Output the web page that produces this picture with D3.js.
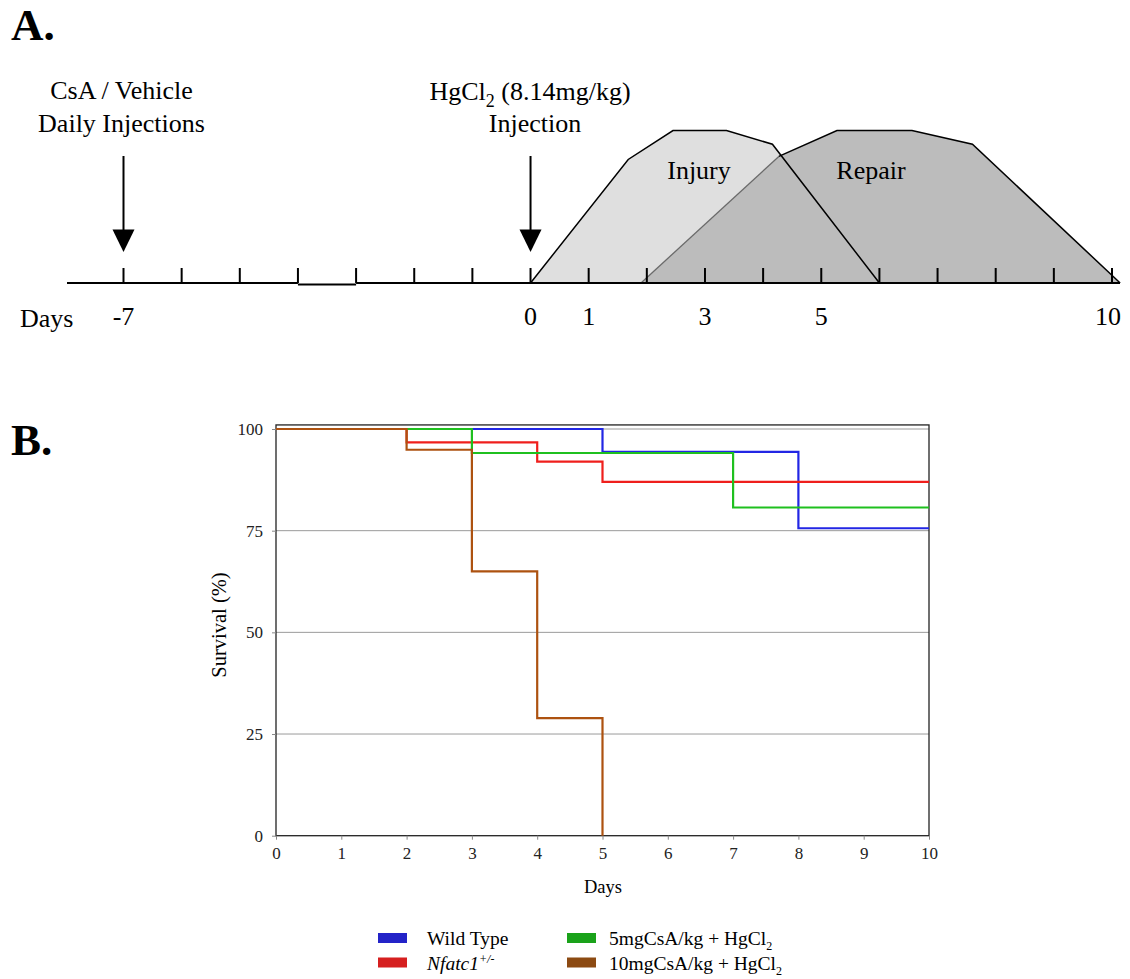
<!DOCTYPE html>
<meta charset="utf-8">
<style>
    body { margin: 0; background: #fff; }
    text { font-family: "Liberation Serif", "Times New Roman", serif; fill: #000; }
</style>
<body>
<script src="https://cdn.jsdelivr.net/npm/d3@7"></script>
<script>

// ---- panel A: timeline ----
var timelineDays = d3.range(-7, 11);
var timelineLabels = [-7, 0, 1, 3, 5, 10];
var injuryDays = [0, 1.68, 2.45, 3.37, 4.16, 6.0];
var injuryLevel = [0, 0.81, 1, 1, 0.91, 0];
var repairDays = [1.9, 4.27, 5.27, 6.56, 7.6, 10.14];
var repairLevel = [0, 0.83, 1, 1, 0.91, 0];

// ---- panel B: survival ----
var survTicksX = d3.range(0, 11);
var survTicksY = [0, 25, 50, 75, 100];
var seriesNames = ["Wild Type", "Nfatc1", "5mgCsA/kg + HgCl", "10mgCsA/kg + HgCl"];
var wildTypeDays = [0, 5, 8, 10];
var wildTypeSurv = [100, 94.4, 75.6, 75.6];
var nfatcDays = [0, 2, 4, 5, 10];
var nfatcSurv = [100, 96.7, 92.0, 87.0, 87.0];
var csa5Days = [0, 3, 7, 10];
var csa5Surv = [100, 94.1, 80.7, 80.7];
var csa10Days = [0, 2, 3, 4, 5];
var csa10Surv = [100, 94.9, 65.0, 28.9, 0];
var lineColors = ["#2226e4", "#ef1f1c", "#1fc01f", "#ad5210"];
var legendColors = ["#2323c8", "#d61f1f", "#1aa21a", "#8c4a12"];

var fontA = "26px";

var svg = d3.select("body").append("svg")
    .attr("width", 1130)
    .attr("height", 979);

// panel letters
svg.append("text").attr("x", 11).attr("y", 40)
    .style("font-size", "45px").style("font-weight", "bold").text("A.");
svg.append("text").attr("x", 11).attr("y", 455)
    .style("font-size", "45px").style("font-weight", "bold").text("B.");

// ===== panel A =====
var ax = d3.scaleLinear().domain([-7, 10]).range([123.5, 1112]);
var ay = d3.scaleLinear().domain([0, 1]).range([283, 130.5]);
var axisY = 283;

var area = d3.line()
    .x(function(d) { return ax(d[0]); })
    .y(function(d) { return ay(d[1]); });

var injuryPts = d3.zip(injuryDays, injuryLevel);
var repairPts = d3.zip(repairDays, repairLevel);

svg.append("path")
    .attr("d", area(injuryPts) + "Z")
    .style("fill", "#dfdfdf")
    .style("stroke", "none");

svg.append("path")
    .attr("d", area(repairPts) + "Z")
    .style("fill", "#bcbcbc")
    .style("stroke", "none");

// repair rising edge seen through injury
svg.append("path")
    .attr("d", area(repairPts.slice(0, 2)))
    .style("fill", "none")
    .style("stroke", "#6a6a6a")
    .style("stroke-width", 1.3);

svg.append("path")
    .attr("d", area(repairPts.slice(1)))
    .style("fill", "none")
    .style("stroke", "#000")
    .style("stroke-width", 1.5);

svg.append("path")
    .attr("d", area(injuryPts))
    .style("fill", "none")
    .style("stroke", "#000")
    .style("stroke-width", 1.5);

// timeline axis (slight step between -4 and -3)
var axisG = svg.append("g").attr("class", "timeline");
axisG.append("line")
    .attr("x1", 67).attr("x2", ax(-4))
    .attr("y1", axisY).attr("y2", axisY)
    .style("stroke", "#000").style("stroke-width", 2);
axisG.append("line")
    .attr("x1", ax(-4)).attr("x2", ax(-3))
    .attr("y1", axisY + 1.5).attr("y2", axisY + 1.5)
    .style("stroke", "#000").style("stroke-width", 2);
axisG.append("line")
    .attr("x1", ax(-3)).attr("x2", 1120)
    .attr("y1", axisY).attr("y2", axisY)
    .style("stroke", "#000").style("stroke-width", 2);

axisG.selectAll(".tick")
    .data(timelineDays)
    .enter()
    .append("line")
    .attr("class", "tick")
    .attr("x1", function(d) { return ax(d); })
    .attr("x2", function(d) { return ax(d); })
    .attr("y1", axisY)
    .attr("y2", axisY - 15)
    .style("stroke", "#000").style("stroke-width", 2);

axisG.selectAll(".lbl")
    .data(timelineLabels)
    .enter()
    .append("text")
    .attr("class", "lbl")
    .attr("x", function(d) { return d == 10 ? ax(d) - 4 : ax(d); })
    .attr("y", 325)
    .attr("text-anchor", "middle")
    .style("font-size", fontA)
    .text(function(d) { return d; });

svg.append("text").attr("x", 20).attr("y", 327)
    .style("font-size", fontA).text("Days");

// arrows
function arrow(day) {
    var x = ax(day);
    svg.append("line")
        .attr("x1", x).attr("x2", x)
        .attr("y1", 156).attr("y2", 232)
        .style("stroke", "#000").style("stroke-width", 2);
    svg.append("path")
        .attr("d", "M" + (x - 11) + ",229.5L" + (x + 11) + ",229.5L" + x + ",252Z")
        .style("fill", "#000");
}
arrow(-7);
arrow(0);

svg.append("text").attr("x", ax(-7) - 2).attr("y", 99)
    .attr("text-anchor", "middle").style("font-size", fontA).text("CsA / Vehicle");
svg.append("text").attr("x", ax(-7) - 2).attr("y", 131.5)
    .attr("text-anchor", "middle").style("font-size", fontA).text("Daily Injections");

var hg = svg.append("text").attr("x", 530).attr("y", 100)
    .attr("text-anchor", "middle").style("font-size", fontA);
hg.append("tspan").text("HgCl");
hg.append("tspan").attr("dy", 7).style("font-size", "18px").text("2");
hg.append("tspan").attr("dy", -7).text(" (8.14mg/kg)");
svg.append("text").attr("x", 535).attr("y", 131.5)
    .attr("text-anchor", "middle").style("font-size", fontA).text("Injection");

svg.append("text").attr("x", 699).attr("y", 179)
    .attr("text-anchor", "middle").style("font-size", fontA).text("Injury");
svg.append("text").attr("x", 871).attr("y", 179)
    .attr("text-anchor", "middle").style("font-size", fontA).text("Repair");

// ===== panel B =====
var x = d3.scaleLinear().domain([0, 10]).range([276, 929]);
var y = d3.scaleLinear().domain([0, 100]).range([835.7, 429]);

// grid
svg.append("g")
    .selectAll("line")
    .data([25, 50, 75, 100])
    .enter()
    .append("line")
    .attr("x1", x(0)).attr("x2", x(10))
    .attr("y1", function(d) { return y(d); })
    .attr("y2", function(d) { return y(d); })
    .style("stroke", "#9a9a9a").style("stroke-width", 1);

// frame
svg.append("rect")
    .attr("x", x(0)).attr("y", y(101))
    .attr("width", x(10) - x(0)).attr("height", y(0) - y(101))
    .style("fill", "none").style("stroke", "#222").style("stroke-width", 1.3);

var xAxis = svg.append("g")
    .attr("transform", "translate(0," + y(0) + ")")
    .call(d3.axisBottom(x).tickValues(survTicksX).tickSize(4).tickPadding(7).tickFormat(d3.format("d")));
var yAxis = svg.append("g")
    .attr("transform", "translate(" + x(0) + ",0)")
    .call(d3.axisLeft(y).tickValues(survTicksY).tickSize(4).tickPadding(9).tickFormat(d3.format("d")));

[xAxis, yAxis].forEach(function(g) {
    g.select(".domain").remove();
    g.selectAll(".tick line").style("stroke", "#888");
    g.selectAll(".tick text")
        .style("font-family", '"Liberation Serif", "Times New Roman", serif')
        .style("font-size", "17px")
        .style("fill", "#222");
});

svg.append("text")
    .attr("transform", "translate(226,625) rotate(-90)")
    .attr("text-anchor", "middle")
    .style("font-size", "20.5px")
    .text("Survival (%)");
svg.append("text")
    .attr("x", 603).attr("y", 893)
    .attr("text-anchor", "middle")
    .style("font-size", "18.5px")
    .text("Days");

var step = d3.line()
    .curve(d3.curveStepAfter)
    .x(function(d) { return x(d[0]); })
    .y(function(d) { return y(d[1]); });

var series = [
    d3.zip(wildTypeDays, wildTypeSurv),
    d3.zip(nfatcDays, nfatcSurv),
    d3.zip(csa5Days, csa5Surv),
    d3.zip(csa10Days, csa10Surv)
];

svg.append("g")
    .selectAll("path")
    .data(series)
    .enter()
    .append("path")
    .attr("d", function(d) { return step(d); })
    .style("fill", "none")
    .style("stroke", function(d, i) { return lineColors[i]; })
    .style("stroke-width", 2.2);

// legend
var legendPos = [[378, 933], [378, 957.5], [567, 933], [567, 957.5]];
var legend = svg.append("g");
legend.selectAll("rect")
    .data(seriesNames)
    .enter()
    .append("rect")
    .attr("x", function(d, i) { return legendPos[i][0]; })
    .attr("y", function(d, i) { return legendPos[i][1]; })
    .attr("width", 29)
    .attr("height", 10)
    .style("fill", function(d, i) { return legendColors[i]; });

legend.selectAll("text")
    .data(seriesNames)
    .enter()
    .append("text")
    .attr("x", function(d, i) { return legendPos[i][0] + (i < 2 ? 49 : 42); })
    .attr("y", function(d, i) { return legendPos[i][1] + 12; })
    .style("font-size", "19.5px")
    .each(function(d, i) {
        var t = d3.select(this);
        if (i == 1) {
            t.append("tspan").style("font-style", "italic").text(d);
            t.append("tspan").attr("dy", -7).style("font-style", "italic")
                .style("font-size", "12px").text("+/-");
        } else if (i >= 2) {
            t.append("tspan").text(d);
            t.append("tspan").attr("dy", 5).style("font-size", "12px").text("2");
        } else {
            t.text(d);
        }
    });

</script>
</body>
